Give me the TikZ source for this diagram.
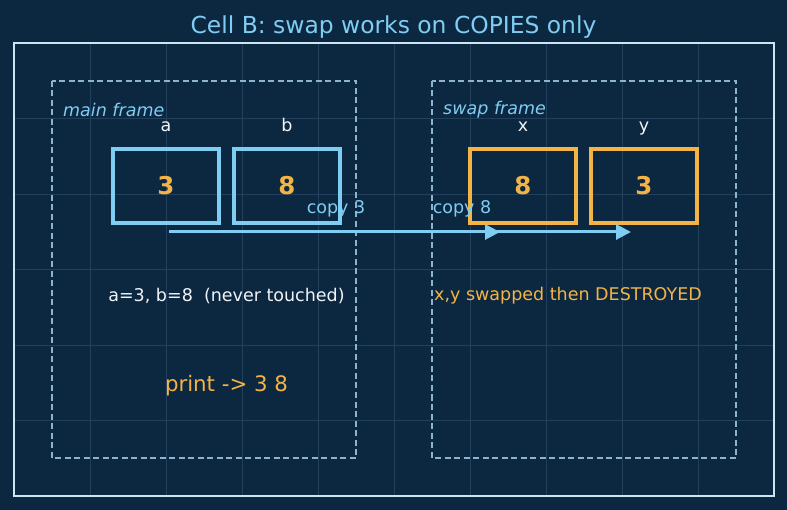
\documentclass[tikz,border=0pt]{standalone}
\usepackage{fontspec}
\setmainfont{DejaVu Sans}
\usetikzlibrary{arrows.meta}
\definecolor{bgc}{RGB}{12,39,64}
\definecolor{gridc}{RGB}{34,64,92}
\definecolor{framec}{RGB}{205,228,243}
\definecolor{dashc}{RGB}{141,180,207}
\definecolor{lblue}{RGB}{127,205,242}
\definecolor{orng}{RGB}{244,180,69}
\definecolor{wtxt}{RGB}{240,244,248}
\tikzset{
  txt/.style={inner sep=0pt, font=\fontsize{17.5}{20}\selectfont},
  varlbl/.style={txt, text=wtxt, anchor=base},
  frm/.style={draw=dashc, line width=1.5pt, dash pattern=on 6pt off 3.5pt},
  bluebox/.style={draw=lblue, line width=3.2pt, minimum width=106pt, minimum height=74pt, inner sep=0pt},
  orbox/.style={draw=orng, line width=3.2pt, minimum width=106pt, minimum height=74pt, inner sep=0pt},
  num/.style={text=orng, font=\fontsize{24.5}{28}\selectfont\bfseries},
  cpy/.style={draw=lblue, line width=3pt, -{Triangle[length=15pt,width=15pt]}},
}
\begin{document}
\begin{tikzpicture}[x=1pt,y=-1pt]
\fill[bgc] (0,0) rectangle (787,510);
\useasboundingbox (0,0) rectangle (787,510);
% grid
\foreach \gx in {90,166,242,318,394,470,546,622,698}
  \draw[gridc, line width=0.8pt] (\gx,43) -- (\gx,496);
\foreach \gy in {118.5,194,269.5,345,420.5}
  \draw[gridc, line width=0.8pt] (14,\gy) -- (774,\gy);
% outer frame
\draw[framec, line width=2.2pt] (14,43) rectangle (774,496);
% title
\node[txt, text=lblue, font=\fontsize{23.4}{26}\selectfont] (title) at (393.5,27) {Cell B: swap works on COPIES only};
% frames
\draw[frm] (52,81) rectangle (356,458);
\draw[frm] (432,81) rectangle (736,458);
\node[txt, text=lblue, anchor=west, font=\fontsize{17.5}{20}\selectfont\itshape] (mainlbl) at (63,110) {main frame};
\node[txt, text=lblue, anchor=west, font=\fontsize{17.5}{20}\selectfont\itshape] (swaplbl) at (443,110) {swap frame};
% variable labels
\node[varlbl] (la) at (166,132) {a};
\node[varlbl] (lb) at (287,132) {b};
\node[varlbl] (lx) at (523,132) {x};
\node[varlbl] (ly) at (644,132) {y};
% boxes
\node[bluebox, num] (ba) at (166,186) {3};
\node[bluebox, num] (bb) at (287,186) {8};
\node[orbox, num] (bx) at (523,186) {8};
\node[orbox, num] (by) at (644,186) {3};
% arrows
\coordinate (s1) at (169,232);
\coordinate (e1) at (500,232);
\coordinate (s2) at (291,232);
\coordinate (e2) at (631,232);
\draw[cpy] (s1) -- (e1);
\draw[cpy] (s2) -- (e2);
\node[txt, text=lblue] (c3) at (336,209) {copy 3};
\node[txt, text=lblue] (c8) at (462,209) {copy 8};
% notes
\node[txt, text=wtxt] (never) at (226.5,296) {a=3, b=8\ \ (never touched)};
\node[txt, text=orng, anchor=west] (destroyed) at (434,296) {x,y swapped then DESTROYED};
\node[txt, text=orng, font=\fontsize{21.3}{24}\selectfont] (print) at (226.5,386) {print -> 3 8};
\end{tikzpicture}
\end{document}
